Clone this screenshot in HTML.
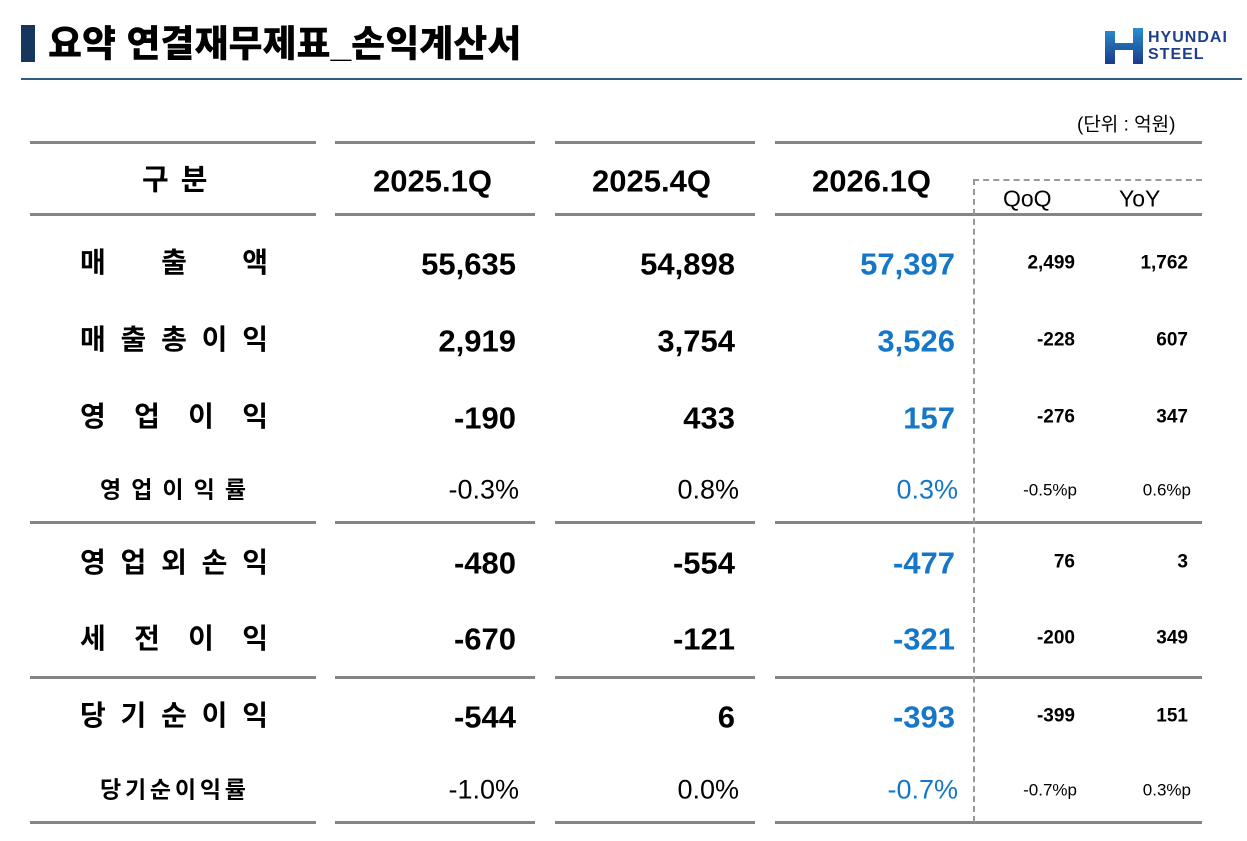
<!DOCTYPE html>
<html><head><meta charset="utf-8"><style>
body{margin:0;width:1247px;height:841px;background:#fff;position:relative;overflow:hidden;font-family:"Liberation Sans",Arial,Helvetica,"Noto Sans CJK KR",sans-serif;color:#000}
.a{position:absolute}
.hl{position:absolute;height:3px;background:#858585}
.t{position:absolute;white-space:nowrap;line-height:1;transform:translateY(-50%)}
.r{text-align:right}
.b{font-weight:bold}
.big{font-size:31px;font-weight:bold}
.pct{font-size:27px}
.sm{font-size:19px;font-weight:bold}
.sp{font-size:17px}
.blue{color:#1677c8}
.lab{position:absolute;display:flex;justify-content:space-between;font-weight:bold;font-size:28px;line-height:1;transform:translateY(-50%)}
.lab2{position:absolute;display:flex;justify-content:space-between;font-weight:bold;font-size:23px;line-height:1;transform:translateY(-50%)}
</style></head><body>
<div class="a" style="left:21px;top:25px;width:14px;height:37px;background:#17365d"></div>
<div class="t" style="left:48px;top:44px;font-size:37px;font-weight:900;letter-spacing:0px">요약 연결재무제표_손익계산서</div>
<div class="a" style="left:21px;top:78px;width:1221px;height:2px;background:#2e5c86"></div>
<svg class="a" style="left:1105px;top:28px" width="38" height="36" viewBox="0 0 38 36">
<defs><linearGradient id="g" x1="0" y1="0" x2="0" y2="1"><stop offset="0" stop-color="#2a8fcf"/><stop offset="1" stop-color="#1b3a8a"/></linearGradient></defs>
<path d="M0 3h10v12h18V0h10v36H28V22H10v14H0z" fill="url(#g)"/></svg>
<div class="t b" style="left:1148px;top:38px;font-size:16px;color:#1e3f8f;letter-spacing:1px">HYUNDAI</div>
<div class="t b" style="left:1148px;top:55px;font-size:16px;color:#1e3f8f;letter-spacing:1px">STEEL</div>
<div class="t" style="left:1077px;top:125px;font-size:19px">(단위 : 억원)</div>

<div class="hl" style="left:30px;width:286px;top:141px"></div>
<div class="hl" style="left:335px;width:200px;top:141px"></div>
<div class="hl" style="left:555px;width:200px;top:141px"></div>
<div class="hl" style="left:775px;width:427px;top:141px"></div>
<div class="hl" style="left:30px;width:286px;top:213px"></div>
<div class="hl" style="left:335px;width:200px;top:213px"></div>
<div class="hl" style="left:555px;width:200px;top:213px"></div>
<div class="hl" style="left:775px;width:427px;top:213px"></div>
<div class="hl" style="left:30px;width:286px;top:521px"></div>
<div class="hl" style="left:335px;width:200px;top:521px"></div>
<div class="hl" style="left:555px;width:200px;top:521px"></div>
<div class="hl" style="left:775px;width:427px;top:521px"></div>
<div class="hl" style="left:30px;width:286px;top:676px"></div>
<div class="hl" style="left:335px;width:200px;top:676px"></div>
<div class="hl" style="left:555px;width:200px;top:676px"></div>
<div class="hl" style="left:775px;width:427px;top:676px"></div>
<div class="hl" style="left:30px;width:286px;top:821px"></div>
<div class="hl" style="left:335px;width:200px;top:821px"></div>
<div class="hl" style="left:555px;width:200px;top:821px"></div>
<div class="hl" style="left:775px;width:427px;top:821px"></div>
<div class="a" style="left:973px;top:179px;width:229px;height:0;border-top:2px dashed #999"></div>
<div class="a" style="left:973px;top:179px;width:0;height:643px;border-left:2px dashed #999"></div>

<div class="t b" style="left:142px;top:181px;font-size:29px;letter-spacing:2px">구 분</div>
<div class="t b" style="left:373px;top:181px;font-size:31px">2025.1Q</div>
<div class="t b" style="left:592px;top:181px;font-size:31px">2025.4Q</div>
<div class="t b" style="left:812px;top:181px;font-size:31px">2026.1Q</div>
<div class="t" style="left:1003px;top:199px;font-size:23px">QoQ</div>
<div class="t" style="left:1119px;top:199px;font-size:23px">YoY</div>

<div class="lab" style="left:80px;width:188px;top:263px"><span>매</span><span>출</span><span>액</span></div>
<div class="lab" style="left:80px;width:188px;top:340px"><span>매</span><span>출</span><span>총</span><span>이</span><span>익</span></div>
<div class="lab" style="left:80px;width:188px;top:417px"><span>영</span><span>업</span><span>이</span><span>익</span></div>
<div class="lab2" style="left:100px;width:146px;top:490px"><span>영</span><span>업</span><span>이</span><span>익</span><span>률</span></div>
<div class="lab" style="left:80px;width:188px;top:563px"><span>영</span><span>업</span><span>외</span><span>손</span><span>익</span></div>
<div class="lab" style="left:80px;width:188px;top:639px"><span>세</span><span>전</span><span>이</span><span>익</span></div>
<div class="lab" style="left:80px;width:188px;top:716px"><span>당</span><span>기</span><span>순</span><span>이</span><span>익</span></div>
<div class="lab2" style="left:100px;width:146px;top:790px"><span>당</span><span>기</span><span>순</span><span>이</span><span>익</span><span>률</span></div>

<div class="t r big" style="right:731px;top:264px">55,635</div>
<div class="t r big" style="right:512px;top:264px">54,898</div>
<div class="t r big blue" style="right:292px;top:264px">57,397</div>
<div class="t r sm" style="right:172px;top:263px">2,499</div>
<div class="t r sm" style="right:59px;top:263px">1,762</div>

<div class="t r big" style="right:731px;top:341px">2,919</div>
<div class="t r big" style="right:512px;top:341px">3,754</div>
<div class="t r big blue" style="right:292px;top:341px">3,526</div>
<div class="t r sm" style="right:172px;top:340px">-228</div>
<div class="t r sm" style="right:59px;top:340px">607</div>

<div class="t r big" style="right:731px;top:418px">-190</div>
<div class="t r big" style="right:512px;top:418px">433</div>
<div class="t r big blue" style="right:292px;top:418px">157</div>
<div class="t r sm" style="right:172px;top:417px">-276</div>
<div class="t r sm" style="right:59px;top:417px">347</div>

<div class="t r pct" style="right:728px;top:490px">-0.3%</div>
<div class="t r pct" style="right:508px;top:490px">0.8%</div>
<div class="t r pct blue" style="right:289px;top:490px">0.3%</div>
<div class="t r sp" style="right:170px;top:490px">-0.5%p</div>
<div class="t r sp" style="right:56px;top:490px">0.6%p</div>

<div class="t r big" style="right:731px;top:563px">-480</div>
<div class="t r big" style="right:512px;top:563px">-554</div>
<div class="t r big blue" style="right:292px;top:563px">-477</div>
<div class="t r sm" style="right:172px;top:562px">76</div>
<div class="t r sm" style="right:59px;top:562px">3</div>

<div class="t r big" style="right:731px;top:639px">-670</div>
<div class="t r big" style="right:512px;top:639px">-121</div>
<div class="t r big blue" style="right:292px;top:639px">-321</div>
<div class="t r sm" style="right:172px;top:638px">-200</div>
<div class="t r sm" style="right:59px;top:638px">349</div>

<div class="t r big" style="right:731px;top:717px">-544</div>
<div class="t r big" style="right:512px;top:717px">6</div>
<div class="t r big blue" style="right:292px;top:717px">-393</div>
<div class="t r sm" style="right:172px;top:716px">-399</div>
<div class="t r sm" style="right:59px;top:716px">151</div>

<div class="t r pct" style="right:728px;top:790px">-1.0%</div>
<div class="t r pct" style="right:508px;top:790px">0.0%</div>
<div class="t r pct blue" style="right:289px;top:790px">-0.7%</div>
<div class="t r sp" style="right:170px;top:790px">-0.7%p</div>
<div class="t r sp" style="right:56px;top:790px">0.3%p</div>
</body></html>
